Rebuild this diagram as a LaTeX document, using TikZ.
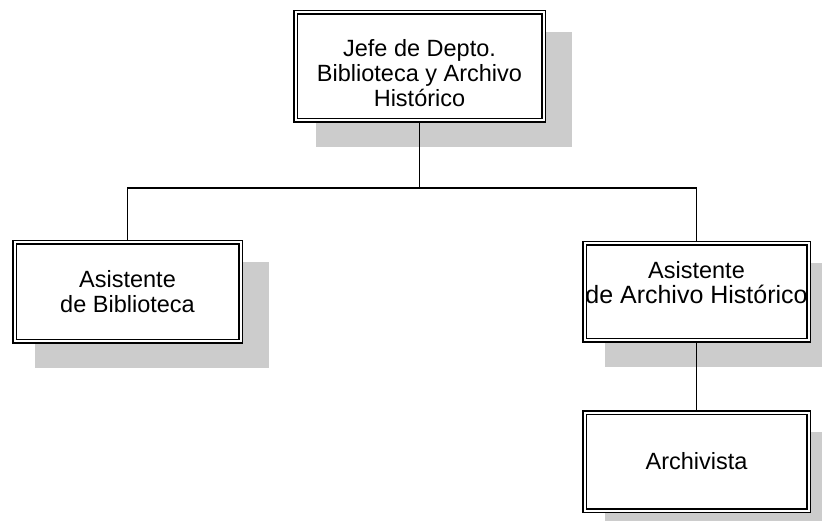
\documentclass[tikz,border=0pt]{standalone}
\usepackage{fontspec}
\setmainfont{Liberation Sans}
\usetikzlibrary{backgrounds}

\begin{document}
\begin{tikzpicture}[x=1pt,y=-1pt,
  puesto/.style={draw,double,line width=1.5pt,double distance=2pt,fill=white,
    align=center,inner sep=0pt,outer sep=2.5pt,font=\fontsize{23.5}{25}\selectfont},
  sombra/.style={fill=black!20},
  conector/.style={line width=1.6pt}]
  \useasboundingbox (0,0) rectangle (822,521);
  % puestos
  \node[puesto,minimum width=248pt,minimum height=108pt] (jefe) at (419.5,66.5)
    {\rule{0pt}{30pt}Jefe de Depto.\\Biblioteca y Archivo\\Histórico};
  \node[puesto,minimum width=226pt,minimum height=99pt] (asisbib) at (127.5,292)
    {Asistente\\de Biblioteca};
  \node[puesto,minimum width=224pt,minimum height=97pt] (asisarch) at (696.5,292)
    {Asistente\\{\fontsize{25}{25}\selectfont de Archivo Histórico}\rule[-20pt]{0pt}{20pt}};
  \node[puesto,minimum width=224pt,minimum height=98pt] (archiv) at (696.5,461.5)
    {Archivista};
  % sombras
  \begin{scope}[on background layer]
    \foreach \n in {jefe,asisbib,asisarch,archiv}
      \fill[sombra] ([shift={(23,22)}]\n.north west) rectangle ([shift={(26,24)}]\n.south east);
  \end{scope}
  % lineas
  \coordinate (bus) at (jefe.south |- 0,188);
  \draw[conector] (jefe.south) -- (bus);
  \draw[conector] (asisbib.north) |- (bus) -| (asisarch.north);
  \draw[conector] (asisarch.south) -- (archiv.north);
\end{tikzpicture}
\end{document}
